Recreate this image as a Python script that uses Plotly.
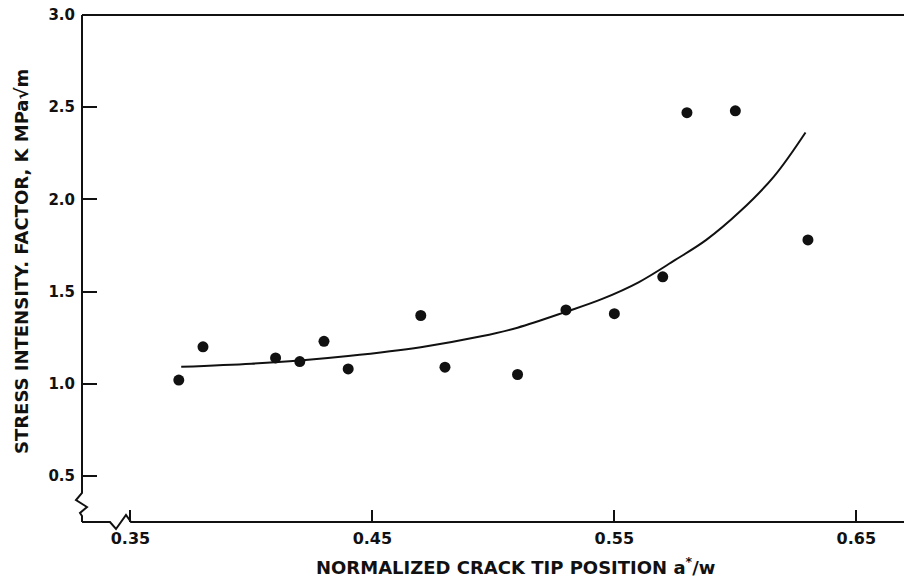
import plotly.graph_objects as go

# Measured stress intensity factor vs. normalized crack tip position
crack_pos = [0.37, 0.38, 0.41, 0.42, 0.43, 0.44, 0.47, 0.48, 0.51, 0.53, 0.55, 0.57, 0.58, 0.60, 0.63]
k_values = [1.02, 1.20, 1.14, 1.12, 1.23, 1.08, 1.37, 1.09, 1.05, 1.40, 1.38, 1.58, 2.47, 2.48, 1.78]

# Fitted trend curve (sampled along the drawn line)
fit_x = [0.371, 0.40, 0.42, 0.44, 0.47, 0.495, 0.51, 0.53, 0.545, 0.56, 0.575, 0.588, 0.602, 0.616, 0.629]
fit_y = [1.092, 1.109, 1.126, 1.150, 1.198, 1.257, 1.304, 1.39, 1.46, 1.55, 1.67, 1.78, 1.935, 2.125, 2.363]

x_ticks = [0.35, 0.45, 0.55, 0.65]
y_ticks = [0.5, 1.0, 1.5, 2.0, 2.5, 3.0]

W, H = 904, 579
L, R, T, B = 82, 0, 15, 57
PW, PH = W - L - R, H - T - B

FONT = "DejaVu Sans"
INK = "#111111"


def px(xp, yp):
    """Pixel position -> paper coordinates of the plot area."""
    return (xp - L) / PW, (H - B - yp) / PH


def path(points):
    coords = [px(a, b) for a, b in points]
    return "M " + " L ".join(f"{a:.5f},{b:.5f}" for a, b in coords)


fig = go.Figure()

fig.add_trace(go.Scatter(
    x=fit_x, y=fit_y, mode="lines",
    line=dict(color=INK, width=2, shape="spline", smoothing=1.0),
    hoverinfo="skip", showlegend=False,
))
fig.add_trace(go.Scatter(
    x=crack_pos, y=k_values, mode="markers",
    marker=dict(color=INK, size=11, line=dict(width=0)),
    showlegend=False,
))

# Axis frame with break symbols near the origin
left_axis = [(82, 15), (82, 493), (76, 500), (87, 507), (80, 513), (82, 516), (82, 522)]
bottom_axis = [(82, 522), (110, 522), (116, 529), (126, 515), (131, 522), (904, 522)]
top_axis = [(82, 15), (904, 15)]
for pts, w in ((left_axis, 2), (bottom_axis, 2), (top_axis, 2.2)):
    fig.add_shape(type="path", path=path(pts), xref="paper", yref="paper",
                  line=dict(color=INK, width=w), layer="above")

fig.update_xaxes(
    range=[0.33, 0.6697], tickvals=x_ticks,
    ticktext=[f"<b>{v:.2f}</b>" for v in x_ticks],
    ticks="inside", ticklen=12, tickwidth=1.5, tickcolor=INK,
    showline=False, showgrid=False, zeroline=False,
    ticklabelstandoff=5,
    tickfont=dict(family=FONT, size=16, color=INK, weight="bold"),
)
fig.update_yaxes(
    range=[0.25, 3.0], tickvals=y_ticks,
    ticktext=[f"<b>{v:.1f}</b>" for v in y_ticks],
    ticks="inside", ticklen=15, tickwidth=1.5, tickcolor=INK,
    showline=False, showgrid=False, zeroline=False,
    ticklabelstandoff=6,
    tickfont=dict(family=FONT, size=15, color=INK, weight="bold"),
)

title_font = dict(family=FONT, size=18, color=INK, weight="bold")

xt_x, xt_y = px(515, 566)
fig.add_annotation(
    text="<b>NORMALIZED CRACK TIP POSITION a<sup>*</sup>/w</b>",
    xref="paper", yref="paper", x=xt_x, y=xt_y,
    xanchor="center", yanchor="middle", showarrow=False,
    font=title_font,
)
yt_x, yt_y = px(21, 262)
fig.add_annotation(
    text="<b>STRESS INTENSITY. FACTOR, K MPa√m</b>",
    xref="paper", yref="paper", x=yt_x, y=yt_y, textangle=-90,
    xanchor="center", yanchor="middle", showarrow=False,
    font=title_font,
)

fig.update_layout(
    width=W, height=H,
    margin=dict(l=L, r=R, t=T, b=B),
    paper_bgcolor="white", plot_bgcolor="white",
)

fig.write_html("out.html")
